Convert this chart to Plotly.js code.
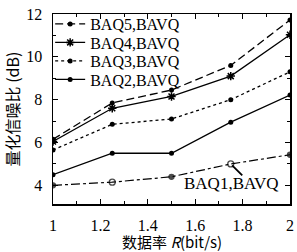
<!DOCTYPE html>
<html>
<head>
<meta charset="utf-8">
<script src="https://cdn.plot.ly/plotly-3.0.1.min.js"></script>
<style>html,body{margin:0;padding:0;background:#fff;}#chart{width:297px;height:252px;}</style>
</head>
<body>
<div id="chart"></div>
<script>
const rates = [1, 1.25, 1.5, 1.75, 2];
const baq5 = [6.15, 7.85, 8.45, 9.6, 11.72];
const baq4 = [6.05, 7.6, 8.15, 9.1, 11.03];
const baq3 = [5.65, 6.85, 7.1, 8.0, 9.3];
const baq2 = [4.5, 5.5, 5.5, 6.95, 8.22];
const baq1 = [4.0, 4.15, 4.4, 5.0, 5.43];
const names = ['BAQ5,BAVQ', 'BAQ4,BAVQ', 'BAQ3,BAVQ', 'BAQ2,BAVQ', 'BAQ1,BAVQ'];
const xTicks = [1, 1.2, 1.4, 1.6, 1.8, 2];
const yTicks = [4, 6, 8, 10, 12];
const xTitle = '数据率 <i>R</i>(bit/s)';
const yTitle = '量化信噪比 (dB)';

const serif = 'Liberation Serif, Times New Roman, serif';
const cjk = 'Noto Sans CJK SC, Liberation Serif, serif';

const traces = [
  {x: rates, y: baq5, name: names[0], mode: 'lines+markers', legend: 'legend',
   line: {color: '#000', width: 1.3, dash: '8px,4px'},
   marker: {symbol: 'circle', size: 5, color: '#000'}},
  {x: rates, y: baq4, name: names[1], mode: 'lines+markers', legend: 'legend2',
   line: {color: '#000', width: 1.3},
   marker: {symbol: 'asterisk-open', size: 7, color: '#000', line: {color: '#000', width: 1.5}}},
  {x: rates, y: baq3, name: names[2], mode: 'lines+markers', legend: 'legend3',
   line: {color: '#000', width: 1.3, dash: 'dot'},
   marker: {symbol: 'circle', size: 5, color: '#000'}},
  {x: rates, y: baq2, name: names[3], mode: 'lines+markers', legend: 'legend4',
   line: {color: '#000', width: 1.3},
   marker: {symbol: 'circle', size: 5, color: '#000'}},
  {x: rates, y: baq1, name: names[4], mode: 'lines+markers', showlegend: false,
   line: {color: '#000', width: 1.2, dash: 'dashdot'},
   marker: {symbol: ['circle', 'circle-open', 'circle', 'circle-open', 'circle'], size: [5, 6, 5, 6, 5], color: '#000', line: {color: '#000', width: 1.3}}}
];

const plotTop = 14, plotH = 190;
function legendAt(py) {
  return {x: -0.012, y: 1 - (py - plotTop) / plotH, xanchor: 'left', yanchor: 'middle',
    bgcolor: 'rgba(0,0,0,0)', borderwidth: 0,
    font: {family: serif, size: 16, color: '#000'}, itemwidth: 30};
}

const layout = {
  width: 297, height: 252,
  margin: {l: 53, r: 7, t: plotTop, b: 48},
  paper_bgcolor: '#fff', plot_bgcolor: '#fff',
  showlegend: true,
  legend: legendAt(24),
  legend2: legendAt(42.5),
  legend3: legendAt(61),
  legend4: legendAt(79.5),
  xaxis: {
    range: [1, 2], tickvals: xTicks, ticktext: xTicks.map(String),
    showgrid: false, zeroline: false,
    showline: true, linecolor: '#000', linewidth: 1.5, mirror: 'ticks',
    ticks: 'inside', ticklen: 5, tickcolor: '#000', tickwidth: 1,
    minor: {dtick: 0.1, ticks: 'inside', ticklen: 3, tickcolor: '#000'},
    tickfont: {family: serif, size: 16, color: '#000'},
    ticklabelstandoff: 6
  },
  yaxis: {
    range: [3.13, 12], tickvals: yTicks, ticktext: yTicks.map(String),
    showgrid: false, zeroline: false,
    showline: true, linecolor: '#000', linewidth: 1.5, mirror: 'ticks',
    ticks: 'inside', ticklen: 5, tickcolor: '#000', tickwidth: 1,
    minor: {dtick: 1, ticks: 'inside', ticklen: 3, tickcolor: '#000'},
    tickfont: {family: serif, size: 16, color: '#000'},
    ticklabelstandoff: 6,
    title: {text: yTitle, font: {family: cjk, size: 16, color: '#000'}, standoff: 4}
  },
  annotations: [
    {x: 1.75, y: baq1[3], xref: 'x', yref: 'y', text: '', showarrow: true,
     arrowhead: 0, arrowwidth: 1.8, arrowcolor: '#000', ax: 13, ay: 13, standoff: 2},
    {x: 1.75, y: baq1[3], xref: 'x', yref: 'y', text: names[4], showarrow: false,
     xshift: 1, yshift: -20, font: {family: serif, size: 17, color: '#000'}},
    {x: 0.5, y: 0, xref: 'paper', yref: 'paper', text: xTitle, showarrow: false,
     xanchor: 'center', yanchor: 'middle', yshift: -37,
     font: {family: cjk, size: 15, color: '#000'}}
  ]
};

Plotly.newPlot('chart', traces, layout, {displayModeBar: false, staticPlot: true});
</script>
</body>
</html>
